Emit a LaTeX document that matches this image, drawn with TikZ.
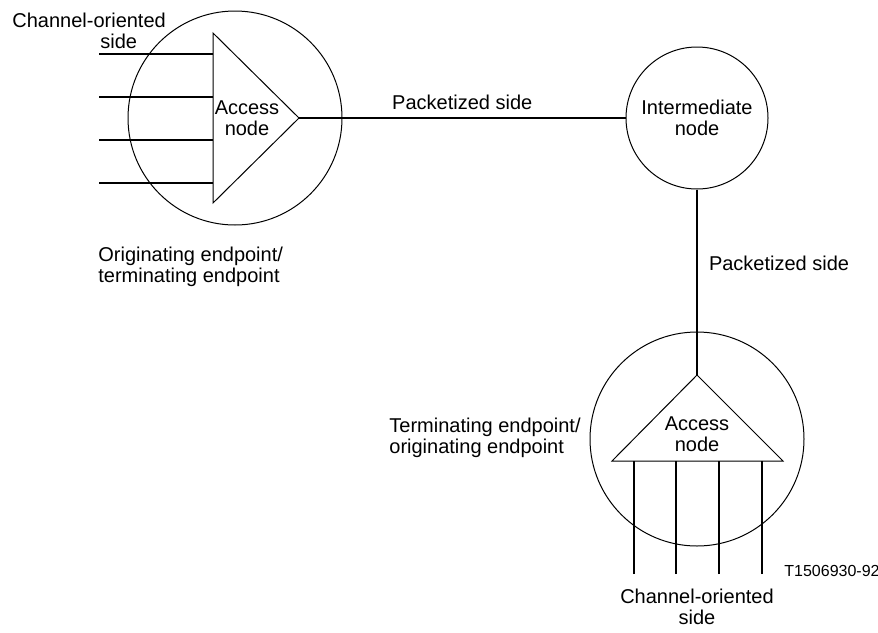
\documentclass[tikz,border=0pt]{standalone}
\usepackage{fontspec}
\setmainfont{Liberation Sans}
\begin{document}
\begin{tikzpicture}[
                x=0.5pt, y=-0.5pt,
                font=\fontsize{10}{10.5}\selectfont,
                endpt/.style={draw, circle, line width=0.5pt, minimum size=107pt, inner sep=0pt},
                midnode/.style={draw, circle, line width=0.5pt, minimum size=71pt, inner sep=0pt, align=center},
                tri/.style={draw, line width=0.5pt},
                conn/.style={draw, line width=1pt},
                lbl/.style={inner sep=0pt, align=left}
                ]

                \useasboundingbox (0,0) rectangle (878,632);

                % endpoints and the node between them
                \node [endpt] (orig) at (235,118) {};
                \node [endpt] (term) at (697,439) {};
                \node [midnode] (inter) at (697,118) {Intermediate\\node};

                % access node, left
                \coordinate (triAtop) at (213,33);
                \coordinate (triAbot) at (213,203);
                \coordinate (accA) at (299,118);
                \draw[tri] (triAtop) -- (triAbot) -- (accA) -- cycle;
                \node [lbl, align=center] (accAtxt) at (247,118) {Access\\node};
                \foreach \y [count=\i] in {54,97,140,183} {
                    \coordinate (chA\i) at (99,\y);
                    \draw[conn] (chA\i) -- ++(114,0);
                }

                % access node, bottom
                \coordinate (triBleft) at (612,461);
                \coordinate (triBright) at (783,461);
                \coordinate (accB) at (697,375);
                \draw[tri] (triBleft) -- (triBright) -- (accB) -- cycle;
                \node [lbl, align=center] (accBtxt) at (697,434) {Access\\node};
                \foreach \x [count=\i] in {634,676,719,762} {
                    \coordinate (chB\i) at (\x,574);
                    \draw[conn] (chB\i) -- ++(0,-113);
                }

                \draw[conn] (accA) -- node[midway, yshift=8pt]{Packetized side} (inter);
                \draw[conn] (inter) -- node[lbl, pos=0.4, right=5.5pt]{Packetized side} (accB);

                % texts
                \node [lbl, anchor=west] (chAtxt) at (12,31) {Channel-oriented\\\hspace*{44pt}side};
                \node [lbl, anchor=west] (origtxt) at (98,267) {Originating endpoint/\\terminating endpoint};
                \node [lbl, anchor=west] (termtxt) at (389,438) {Terminating endpoint/\\originating endpoint};
                \node [lbl, align=center] (chBtxt) at (697,607) {Channel-oriented\\side};
                \node [lbl, anchor=west, font=\fontsize{8}{9}\selectfont] (figno) at (784,571) {T1506930-92};
            \end{tikzpicture}
\end{document}
